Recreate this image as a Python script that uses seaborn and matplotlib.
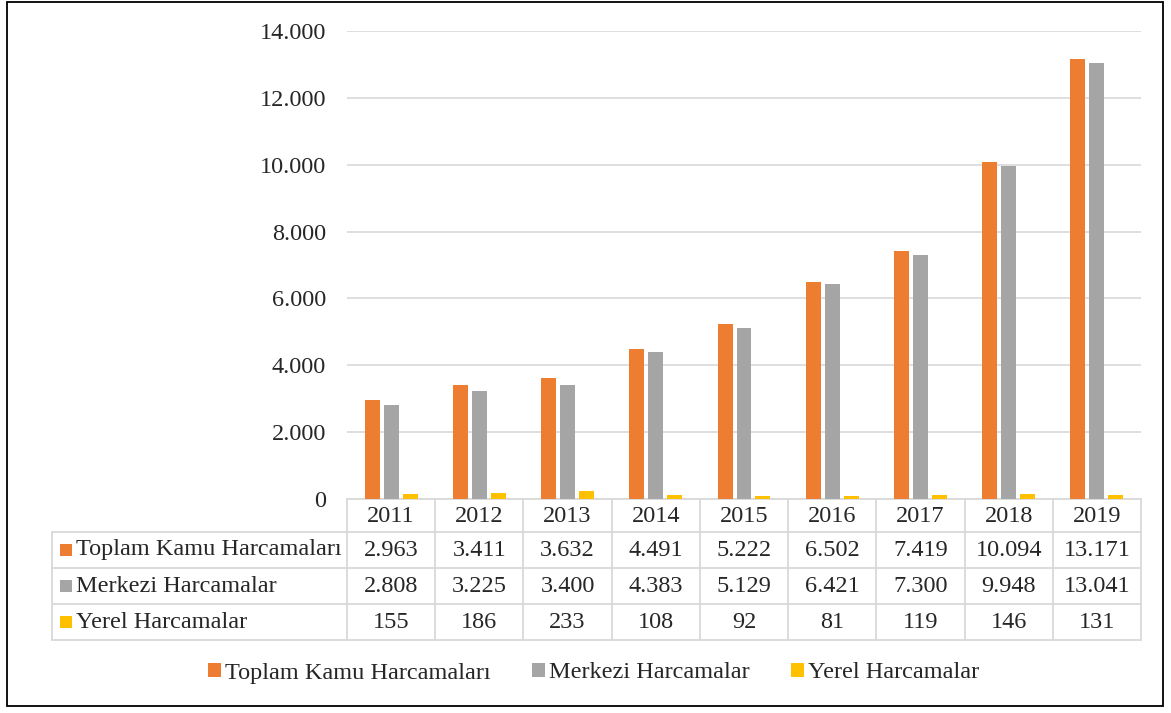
import matplotlib
matplotlib.use("Agg")
import matplotlib.pyplot as plt
import matplotlib.transforms as mtransforms
from matplotlib.patches import Patch, Rectangle
import seaborn as sns
import pandas as pd

years = ["2011", "2012", "2013", "2014", "2015", "2016", "2017", "2018", "2019"]
series_names = ["Toplam Kamu Harcamaları", "Merkezi Harcamalar", "Yerel Harcamalar"]
toplam = [2963, 3411, 3632, 4491, 5222, 6502, 7419, 10094, 13171]
merkezi = [2808, 3225, 3400, 4383, 5129, 6421, 7300, 9948, 13041]
yerel = [155, 186, 233, 108, 92, 81, 119, 146, 131]
yticks = [0, 2000, 4000, 6000, 8000, 10000, 12000, 14000]

colors = ["#ED7D31", "#A5A5A5", "#FFC000"]

sns.set_style("white")
plt.rcParams["font.family"] = ["Liberation Serif", "DejaVu Serif"]
FS = 17.5

def fmt(v):
    return f"{v:,}".replace(",", ".")

series_vals = [toplam, merkezi, yerel]
df = pd.DataFrame({
    "Yıl": years * 3,
    "Değer": toplam + merkezi + yerel,
    "Seri": [s for s in series_names for _ in years],
})

W, H = 1171, 713
fig = plt.figure(figsize=(W / 100, H / 100), dpi=100)
fx = lambda px: px / W
fy = lambda py: 1 - py / H

ax = fig.add_axes([fx(347), fy(499), fx(1141) - fx(347), fy(31) - fy(499)])
sns.barplot(data=df, x="Yıl", y="Değer", hue="Seri", order=years,
            hue_order=series_names, palette=colors, saturation=1,
            width=0.645, gap=0.21, linewidth=0, legend=False, ax=ax, zorder=3)

ax.set_ylim(0, 14000)
ax.set_xlim(-0.5, len(years) - 0.5)
ax.set_yticks(yticks)
ax.set_yticklabels([fmt(v) for v in yticks], fontsize=FS)
ax.set_xticks([])
ax.set_xlabel("")
ax.set_ylabel("")
ax.tick_params(axis="y", length=0, pad=15)
ax.yaxis.grid(True, color="#D9D9D9", linewidth=1.2, zorder=0)
ax.set_axisbelow(True)
for sp in ax.spines.values():
    sp.set_visible(False)

# data table beneath the axis
blend = mtransforms.blended_transform_factory(ax.transData, fig.transFigure)
line_kw = dict(color="#D9D9D9", linewidth=1.3, clip_on=False)
row_lines = [499, 532, 568, 604, 640]
row_centers = [516, 550, 586, 622]

for py in row_lines:
    ax.plot([-0.5, len(years) - 0.5], [fy(py), fy(py)], transform=blend, **line_kw)
for py in row_lines[1:]:
    fig.add_artist(plt.Line2D([fx(52), fx(347)], [fy(py), fy(py)], **line_kw))
for i in range(len(years) + 1):
    ax.plot([i - 0.5, i - 0.5], [fy(499), fy(640)], transform=blend, **line_kw)
fig.add_artist(plt.Line2D([fx(52), fx(52)], [fy(532), fy(640)], **line_kw))

for i, yr in enumerate(years):
    ax.text(i, fy(row_centers[0]), yr, transform=blend, ha="center",
            va="center", fontsize=FS)
for r, (name, vals, c) in enumerate(zip(series_names, series_vals, colors)):
    cy = row_centers[r + 1]
    fig.add_artist(Rectangle((fx(60), fy(cy + 6)), fx(12), 12 / H,
                             facecolor=c, edgecolor="none"))
    fig.text(fx(76), fy(cy), name, ha="left", va="center", fontsize=FS)
    for i, v in enumerate(vals):
        ax.text(i, fy(cy), fmt(v), transform=blend, ha="center",
                va="center", fontsize=FS)

# legend
handles = [Patch(facecolor=c, edgecolor="none") for c in colors]
fig.legend(handles, series_names, loc="center",
           bbox_to_anchor=(fx(594), fy(673)), ncol=3, frameon=False,
           fontsize=FS, handlelength=0.5, handleheight=0.5,
           handletextpad=0.2, columnspacing=1.7)

# outer border
fig.add_artist(Rectangle((fx(7), fy(706)), fx(1163) - fx(7), fy(1.5) - fy(706),
                         facecolor="none", edgecolor="black", linewidth=1.3))

fig.savefig("out.png", dpi=100)
